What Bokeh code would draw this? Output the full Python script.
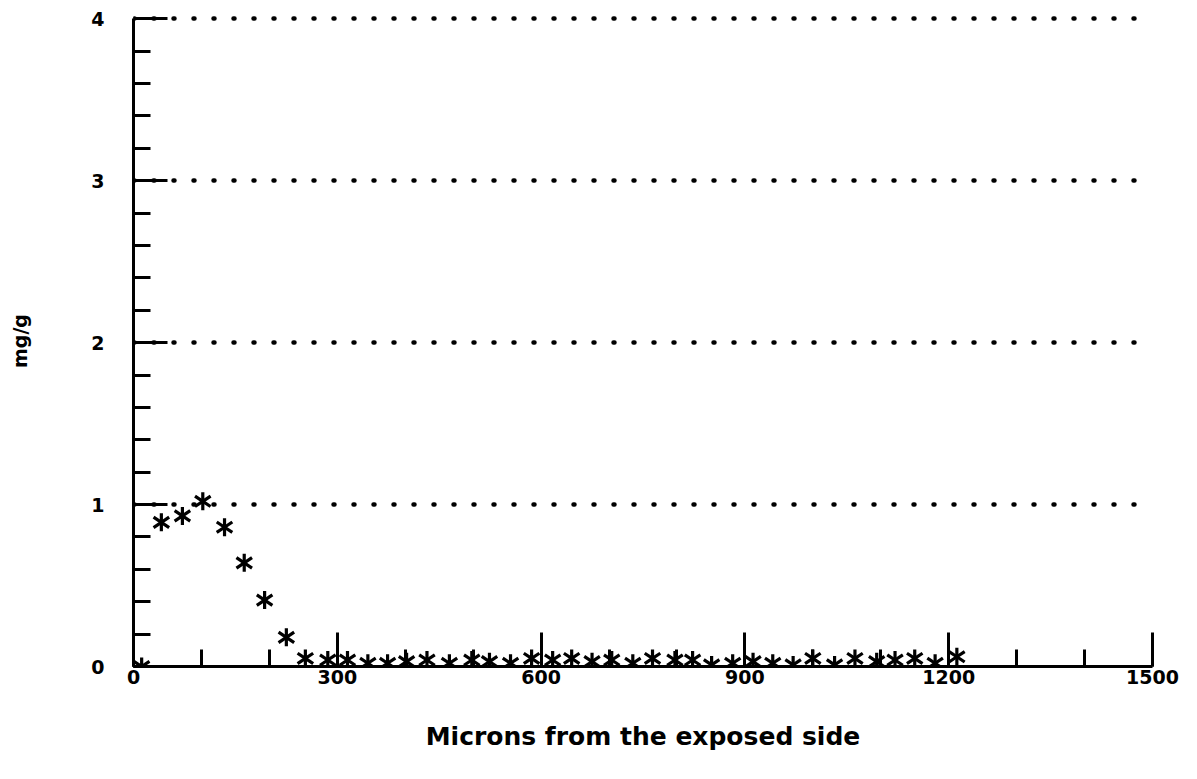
import numpy as np
from bokeh.plotting import figure
from bokeh.models import Range1d, SingleIntervalTicker, FixedTicker, ColumnDataSource
from bokeh.embed import file_html
from bokeh.resources import INLINE

# Data
microns = [12, 41, 72, 102, 134, 163, 193, 225, 253, 286, 315, 345, 374, 402,
           432, 465, 498, 524, 555, 586, 617, 645, 675, 704, 735, 764, 797, 823,
           851, 882, 912, 941, 971, 1000, 1032, 1062, 1094, 1121, 1150, 1180, 1212]
mg_per_g = [0.0, 0.89, 0.93, 1.02, 0.86, 0.64, 0.41, 0.18, 0.05, 0.04, 0.04, 0.02,
            0.02, 0.03, 0.04, 0.02, 0.04, 0.03, 0.02, 0.05, 0.04, 0.05, 0.03, 0.04,
            0.02, 0.05, 0.04, 0.04, 0.01, 0.02, 0.03, 0.02, 0.01, 0.05, 0.01, 0.05,
            0.03, 0.04, 0.05, 0.02, 0.06]
x_label = "Microns from the exposed side"
y_label = "mg/g"
grid_levels = [1, 2, 3, 4]

src = ColumnDataSource(data=dict(x=microns, y=mg_per_g))

p = figure(width=1180, height=763, output_backend="svg", toolbar_location=None,
           x_range=Range1d(0, 1500), y_range=Range1d(0, 4.02),
           min_border_left=133, min_border_right=28, min_border_top=15,
           min_border_bottom=97)
p.outline_line_color = None
p.background_fill_color = "white"

# stars (6-pointed asterisk made of two Y markers)
p.scatter("x", "y", source=src, marker="y", size=18, line_width=3.2, line_color="black")
p.scatter("x", "y", source=src, marker="y", angle=np.pi, size=18, line_width=3.2,
          line_color="black")

# grid
p.xgrid.visible = False
p.ygrid.ticker = FixedTicker(ticks=grid_levels)
p.ygrid.grid_line_color = "black"
p.ygrid.grid_line_width = 4.5
p.ygrid.grid_line_dash = "1 19"
p.ygrid.grid_line_cap = "round"

font = "DejaVu Sans"
for ax in (p.xaxis[0], p.yaxis[0]):
    ax.axis_line_width = 3
    ax.axis_line_color = "black"
    ax.major_tick_in = 34
    ax.major_tick_out = 0
    ax.minor_tick_in = 17
    ax.minor_tick_out = 0
    ax.major_tick_line_width = 3
    ax.minor_tick_line_width = 3
    ax.major_tick_line_color = "black"
    ax.minor_tick_line_color = "black"
    ax.major_label_text_font = font
    ax.major_label_text_font_style = "bold"
    ax.major_label_text_font_size = "19px"
    ax.major_label_text_color = "black"
    ax.axis_label_text_font = font
    ax.axis_label_text_font_style = "bold"
    ax.axis_label_text_color = "black"

xa = p.xaxis[0]
xa.ticker = SingleIntervalTicker(interval=300, num_minor_ticks=3)
xa.bounds = (0, 1500)
xa.major_label_standoff = 3
xa.axis_label = x_label
xa.axis_label_text_font_size = "25px"
xa.axis_label_standoff = 35

ya = p.yaxis[0]
ya.ticker = SingleIntervalTicker(interval=1, num_minor_ticks=5)
ya.bounds = (0, 4)
ya.major_label_standoff = 29
ya.axis_label = y_label
ya.axis_label_text_font_size = "19px"
ya.axis_label_standoff = 57

open("out.html", "w").write(file_html(p, INLINE))
